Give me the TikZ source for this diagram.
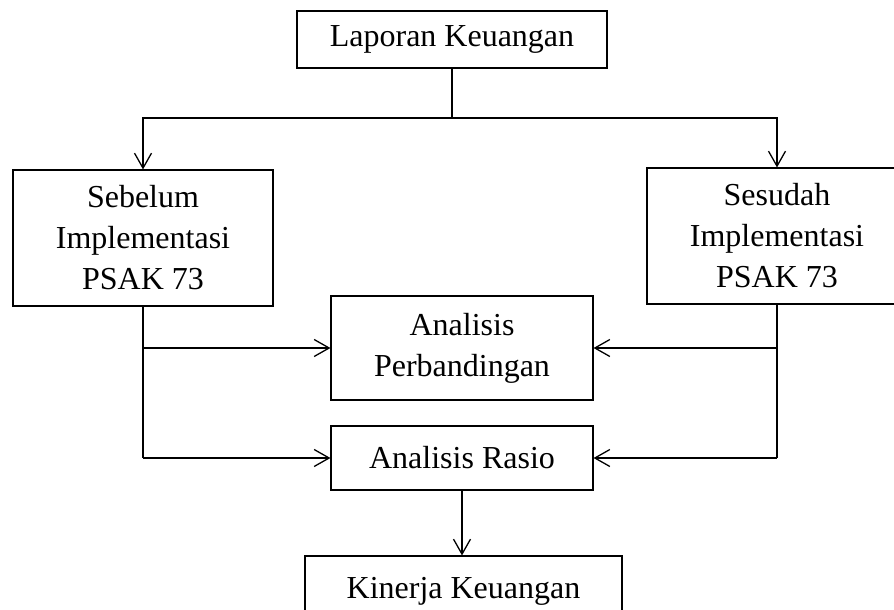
\documentclass[tikz,border=0pt]{standalone}
\usepackage{fontspec}
\setmainfont{Liberation Serif}
\usetikzlibrary{arrows.meta}
\begin{document}
\begin{tikzpicture}[x=1pt,y=-1pt,
  box/.style={draw,line width=1.1pt,rectangle,align=center,inner sep=0pt,
    font=\fontsize{32}{41}\selectfont},
  conn/.style={line width=1.3pt},
  arr/.style={conn,-{Straight Barb[length=15pt,width=17pt,line width=1.3pt]}}]
\useasboundingbox (0,0) rectangle (894,610);
\node[box,minimum width=310pt,minimum height=57pt] (top) at (452,39.5) {Laporan Keuangan};
\node[box,minimum width=260pt,minimum height=136pt] (left) at (143,238) {Sebelum\\Implementasi\\PSAK 73};
\node[box,minimum width=260pt,minimum height=136pt] (right) at (777,236) {Sesudah\\Implementasi\\PSAK 73};
\node[box,minimum width=262pt,minimum height=104pt] (mid) at (462,348) {Analisis\\Perbandingan};
\node[box,minimum width=262pt,minimum height=64pt] (rasio) at (462,458) {Analisis Rasio};
\node[box,minimum width=317pt,minimum height=70pt] (kin) at (463.5,591) {Kinerja Keuangan};
\coordinate (jt) at (452,118);
\coordinate (lt) at (143,118);
\coordinate (rt) at (777,118);
\coordinate (lb1) at (143,348);
\coordinate (lb2) at (143,458);
\coordinate (rb1) at (777,348);
\coordinate (rb2) at (777,458);
\draw[conn] (top.south) -- (jt);
\draw[arr] (jt) -- (lt) -- (left.north);
\draw[arr] (jt) -- (rt) -- (right.north);
\draw[conn] (left.south) -- (lb2);
\draw[arr] (lb1) -- (mid.west);
\draw[arr] (lb2) -- (rasio.west);
\draw[conn] (right.south) -- (rb2);
\draw[arr] (rb1) -- (mid.east);
\draw[arr] (rb2) -- (rasio.east);
\draw[arr] (rasio.south) -- (rasio.south |- kin.north);
\end{tikzpicture}
\end{document}
